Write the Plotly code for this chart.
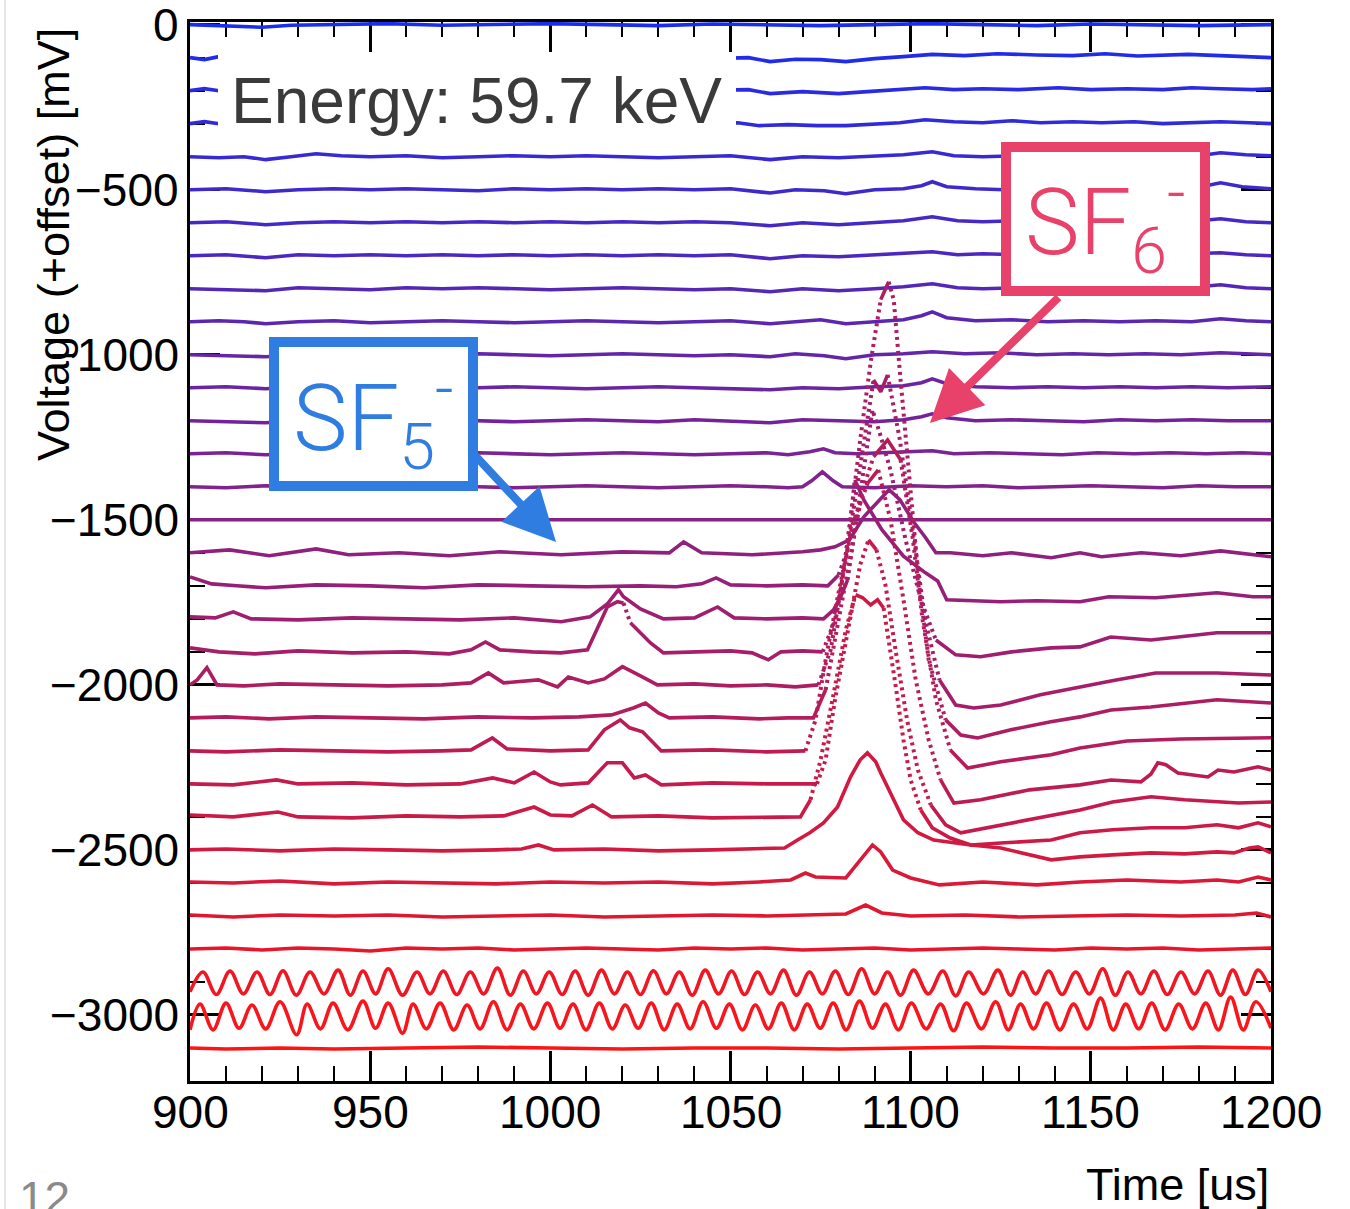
import plotly.graph_objects as go

# ---------------- data (time in us, voltage in mV relative to each trace's offset) ----------------
TRACE_OFFSETS = [0, -100, -200, -300, -400, -500, -600, -700, -800, -900,
                 -1000, -1100, -1200, -1300, -1400, -1500, -1600, -1700, -1800, -1900,
                 -2000, -2100, -2200, -2300, -2400, -2500, -2600, -2700, -2800, -2900,
                 -3000, -3100]

P00 = [(900,0),(910,-3),(920,-8),(928,-2),(940,0),(955,3),(970,-2),(985,0),(1000,3),(1015,0),(1030,-3),
       (1045,2),(1060,0),(1075,-3),(1090,0),(1105,3),(1120,0),(1135,-3),(1150,2),(1165,0),(1180,-3),(1200,0)]
P01 = [(900,0),(904,-6),(908,3),(915,0),(925,-3),(940,0),(955,3),(970,0),(985,-3),(1000,0),(1015,3),(1030,0),
       (1045,-3),(1055,0),(1061,-12),(1068,-5),(1075,-6),(1082,-12),(1090,-3),(1098,3),(1106,10),(1115,6),
       (1124,12),(1135,8),(1145,6),(1154,12),(1163,5),(1177,10),(1188,6),(1197,3),(1200,0)]
P02 = [(900,0),(904,6),(908,0),(920,0),(940,0),(960,0),(980,0),(1000,0),(1020,0),(1040,0),(1055,3),(1061,-9),
       (1070,-3),(1080,-9),(1088,-3),(1097,3),(1104,9),(1112,3),(1120,6),(1130,3),(1141,9),(1150,3),(1160,6),
       (1170,3),(1178,9),(1186,6),(1195,3),(1200,6)]
P03 = [(900,0),(904,6),(908,0),(920,0),(940,0),(960,0),(980,0),(1000,0),(1020,0),(1040,0),(1052,3),(1058,-6),
       (1066,-3),(1074,-6),(1082,-6),(1090,0),(1097,3),(1104,12),(1112,6),(1120,3),(1128,9),(1136,3),(1145,6),
       (1153,3),(1162,6),(1170,0),(1178,3),(1186,6),(1194,3),(1200,0)]
P04 = [(900,0),(908,-3),(915,0),(921,-9),(928,0),(935,9),(942,3),(950,0),(960,3),(970,-3),(980,0),(990,3),
       (1000,0),(1010,3),(1020,0),(1030,-3),(1040,0),(1050,3),(1061,-9),(1070,0),(1080,-3),(1090,3),(1098,6),
       (1106,15),(1112,3),(1120,0),(1130,3),(1140,0),(1150,3),(1160,0),(1170,6),(1180,3),(1186,12),(1193,6),(1200,3)]
P05 = [(900,0),(910,3),(921,-6),(930,0),(940,3),(950,0),(960,3),(970,0),(980,-3),(990,3),(1000,0),(1010,3),
       (1020,0),(1030,3),(1040,0),(1050,3),(1061,-10),(1068,0),(1076,-3),(1082,-12),(1090,0),(1098,3),(1103,12),
       (1106,24),(1110,9),(1118,3),(1126,0),(1135,3),(1145,0),(1155,3),(1165,0),(1175,3),(1182,12),(1186,21),
       (1192,9),(1200,3)]
P06 = [(900,0),(910,3),(921,-6),(930,0),(940,3),(950,0),(960,3),(970,0),(980,3),(990,0),(1000,3),(1010,0),
       (1020,3),(1030,0),(1040,3),(1050,0),(1061,-9),(1070,0),(1080,-6),(1090,0),(1098,6),(1106,18),(1113,6),
       (1120,3),(1130,6),(1140,3),(1150,0),(1160,3),(1170,0),(1180,6),(1186,12),(1193,3),(1200,0)]
P07 = [(900,0),(910,3),(921,-6),(930,3),(940,0),(950,3),(960,0),(970,3),(980,0),(990,3),(1000,0),(1010,3),
       (1020,0),(1030,3),(1040,0),(1050,3),(1061,-9),(1070,0),(1080,-3),(1090,3),(1098,6),(1106,12),(1113,3),
       (1120,6),(1130,3),(1140,0),(1150,3),(1160,0),(1170,3),(1180,6),(1186,9),(1193,3),(1200,0)]
P08 = [(900,0),(910,-3),(921,-6),(930,3),(940,0),(950,-3),(960,3),(970,0),(980,3),(990,0),(1000,-3),(1010,0),
       (1020,3),(1030,0),(1040,-3),(1050,0),(1061,-9),(1070,0),(1080,-6),(1090,0),(1098,6),(1106,15),(1113,3),
       (1120,0),(1130,3),(1140,0),(1150,3),(1160,0),(1170,3),(1180,6),(1186,12),(1193,3),(1200,0)]
P09 = [(900,0),(908,3),(915,0),(921,-6),(930,0),(940,3),(950,-3),(960,0),(970,3),(980,0),(990,-3),(1000,0),
       (1010,3),(1020,0),(1030,-3),(1040,0),(1050,3),(1061,-6),(1070,0),(1075,6),(1082,-6),(1090,0),(1098,6),
       (1103,18),(1106,30),(1110,12),(1118,3),(1128,6),(1138,0),(1148,3),(1158,0),(1168,3),(1178,0),(1186,9),
       (1193,3),(1200,0)]
P10 = [(900,0),(910,-3),(921,-6),(930,0),(940,3),(950,0),(960,-3),(970,0),(980,3),(990,0),(1000,-3),(1010,0),
       (1020,3),(1030,0),(1040,-3),(1050,0),(1061,-6),(1068,3),(1076,-3),(1082,-12),(1090,0),(1098,3),(1106,9),
       (1115,3),(1125,6),(1135,0),(1145,3),(1155,0),(1165,3),(1175,0),(1186,6),(1200,0)]
P11 = [(900,0),(910,3),(921,-3),(930,3),(940,0),(950,3),(960,0),(970,-3),(980,0),(990,3),(1000,0),(1010,-3),
       (1020,0),(1030,3),(1040,0),(1050,-3),(1061,-6),(1070,0),(1080,-3),(1090,3),(1098,6),(1103,15),(1106,27),
       (1110,12),(1118,3),(1128,0),(1138,3),(1148,0),(1158,3),(1168,0),(1178,3),(1188,0),(1200,3)]
P12 = [(900,0),(910,-3),(921,-6),(930,0),(940,3),(950,0),(960,-3),(970,3),(980,0),(990,-3),(1000,0),(1010,3),
       (1020,0),(1030,-3),(1040,3),(1050,0),(1061,-6),(1070,3),(1080,0),(1090,-3),(1098,3),(1103,12),(1106,21),
       (1110,9),(1118,0),(1128,3),(1138,0),(1148,-3),(1158,3),(1168,0),(1178,3),(1188,0),(1200,0)]
P13 = [(900,0),(910,3),(921,-3),(930,0),(940,-3),(950,3),(960,0),(970,-3),(980,3),(990,0),(1000,-3),(1010,0),
       (1020,3),(1030,0),(1040,-3),(1050,0),(1060,3),(1066,-3),(1072,6),(1075.8,15),(1079,3),(1085,0),(1095,3),
       (1106,9),(1112,0),(1122,3),(1132,0),(1142,-3),(1152,3),(1162,0),(1172,3),(1182,0),(1192,3),(1200,0)]
P14 = [(900,0),(910,-3),(921,3),(930,0),(940,3),(950,-3),(960,0),(970,3),(980,0),(990,-3),(1000,0),(1010,3),
       (1020,0),(1030,-3),(1040,0),(1050,3),(1060,0),(1066,-3),(1070,0),(1072.5,18),(1075.5,45),(1078.5,18),
       (1081,0),(1090,-3),(1100,3),(1110,0),(1120,3),(1130,-3),(1140,0),(1150,3),(1160,0),(1170,-3),(1180,3),
       (1190,0),(1200,0)]
P15 = [(900,0),(1200,0)]
P16 = [(900,0),(911,9),(922,-9),(935,12),(944,-6),(958,0),(972,-9),(986,3),(1003,-6),(1020,3),(1033,0),(1037,33),
       (1042,0),(1056,-6),(1070,3),(1075,9),(1079,18),(1083,39),(1087,109),(1092,170),(1094,191),(1097,161),
       (1101,91),(1104,48),(1107,0),(1111,0),(1120,-9),(1128,0),(1139,-15),(1147,0),(1153,-12),(1164,0),
       (1175,-9),(1186,6),(1200,-12)]
P17 = [(900,27),(906,6),(913,0),(921,-6),(935,3),(950,0),(965,-6),(980,3),(995,0),(1010,-3),(1025,0),(1035,-3),
       (1042,6),(1046,24),(1050,3),(1060,0),(1070,3),(1077,0),(1080,33),(1082,94),(1083.3,200),(1084.5,321),
       (1087,260),(1092,170),(1098,90),(1104,40),(1107.5,15),(1110,-42),(1117,-45),(1125,-48),(1135,-45),
       (1147,-48),(1155,-33),(1168,-36),(1185,-21),(1195,-33),(1200,-33)]
P18 = [(900,6),(907,3),(912,21),(917,0),(930,-3),(945,3),(960,0),(975,-3),(990,3),(1003,-9),(1011,6),
       (1015.8,45),(1018.9,88),(1020.3,67),(1025,30),(1031.4,0),(1040,3),(1046.4,36),(1051,3),(1060,0),(1070,3),
       (1075.8,0),(1078.6,27),(1080.6,67),(1082.5,118),(1086,380),(1089.4,633),(1091.5,560),(1094.4,451),
       (1098.6,239),(1102.8,58),(1107,-64),(1112.5,-109),(1119.4,-115),(1128,-100),(1139,-88),(1147,-85),
       (1155.5,-55),(1166.7,-64),(1185,-42),(1200,-42)]
P19 = [(900,12),(908,0),(918,-6),(930,3),(945,-3),(960,0),(972,-6),(978,6),(982,30),(986,6),(995,0),(1003,-3),
       (1010.3,6),(1015.8,136),(1018.6,152),(1020.3,148),(1022.2,88),(1027.8,27),(1031.4,-3),(1040,0),(1050,3),
       (1056,-3),(1060.5,-24),(1064,0),(1070,3),(1075.6,0),(1079,97),(1082,279),(1086,560),(1089.7,824),
       (1091.7,788),(1093.6,839),(1097,642),(1100.6,370),(1104,97),(1108,-85),(1112.5,-161),(1117.5,-170),
       (1125,-161),(1136,-130),(1147,-106),(1157,-85),(1168,-64),(1185,-64),(1200,-70)]
P20 = [(900,0),(902,15),(904.7,52),(907.5,0),(915,-3),(925,3),(940,0),(955,-3),(970,0),(978,6),(982.8,36),
       (987,6),(996.7,15),(1002,-6),(1005,24),(1010.5,6),(1015,18),(1020,55),(1025,27),(1029.7,0),(1040,3),
       (1050,-3),(1060,0),(1068,-6),(1074.4,0),(1077.8,106),(1080.6,288),(1083.3,500),(1086,742),(1089,985),
       (1091.7,1167),(1093.9,1221),(1095.3,1167),(1097.2,924),(1099.4,651),(1102.2,318),(1105,76),
       (1109.7,-106),(1113.9,-152),(1118.6,-161),(1127.8,-136),(1138.9,-112),(1147,-97),(1155.6,-76),
       (1166.7,-67),(1185,-45),(1200,-55)]
P21 = [(900,0),(910,3),(922,-3),(935,3),(950,0),(965,-3),(980,3),(995,0),(1008,3),(1017,9),(1023,30),
       (1026.4,45),(1030,15),(1033,0),(1045,3),(1058,-3),(1066,0),(1073,0),(1076.4,85),(1079,236),(1083.3,479),
       (1086.7,691),(1089.7,791),(1093.6,842),(1097.2,782),(1100.6,542),(1103.3,297),(1107,55),(1111,-97),
       (1115.8,-152),(1125,-133),(1139,-112),(1147,-91),(1160,-70),(1175,-64),(1190,-60),(1200,-60)]
P22 = [(900,0),(910,-3),(925,3),(940,0),(955,-3),(970,0),(978,3),(983.9,39),(988,6),(1000,0),(1010.5,3),
       (1015,64),(1019.4,94),(1022,70),(1025.6,58),(1030.8,0),(1045,3),(1060,-3),(1070.8,0),(1073.6,94),
       (1076.4,276),(1080,480),(1084,690),(1088,810),(1091,851),(1094.4,700),(1098,458),(1101.4,215),(1105,33),
       (1108.3,-88),(1112,-158),(1119.4,-148),(1133,-118),(1147,-103),(1155.6,-88),(1163.9,-94),(1166.7,-70),
       (1168.6,-36),(1170.8,-42),(1174.2,-67),(1177.8,-73),(1182.5,-79),(1185.3,-58),(1189.7,-64),(1196.4,-48),
       (1200,-58)]
P23 = [(900,0),(912,-3),(924,12),(930,0),(945,3),(960,-3),(975,0),(984,18),(990,3),(995.5,36),(1000,6),
       (1002.8,-3),(1010.5,3),(1015.8,64),(1020,64),(1023.3,18),(1026.4,27),(1030.8,-3),(1045,3),(1060,0),
       (1074,0),(1076.4,73),(1079,255),(1083.3,497),(1086,664),(1088.3,739),(1090.5,709),(1093,603),
       (1095.8,406),(1099,194),(1102,42),(1105.6,-64),(1109.7,-124),(1113.9,-148),(1125,-124),(1139,-94),
       (1147,-79),(1156,-55),(1166.7,-39),(1176,-48),(1185,-55),(1191,-58),(1200,-55)]
P24 = [(900,6),(912,0),(924.4,15),(930,0),(945,-3),(960,3),(975,0),(987,3),(995.5,30),(1000,6),(1006,3),
       (1011.7,36),(1017,0),(1030,3),(1045,-3),(1058,0),(1069.4,0),(1072.2,52),(1075,173),(1078.3,355),
       (1082,567),(1084.7,673),(1086.7,664),(1088.9,642),(1090.8,658),(1092.5,633),(1094.4,506),(1096,385),
       (1098,233),(1100,112),(1102.8,21),(1106,-33),(1111,-64),(1116.7,-85),(1125,-79),(1139,-70),(1147,-48),
       (1156,-39),(1166.7,-33),(1176,-33),(1185,-24),(1191,-33),(1196.4,-18),(1200,-30)]
P25 = [(900,0),(910,3),(925,-3),(940,3),(955,0),(970,-3),(985,0),(992,3),(996.7,15),(1001,0),(1015,3),(1030,-3),
       (1045,0),(1060,3),(1065,6),(1068.6,30),(1072,52),(1075.8,82),(1079.7,130),(1083.3,221),(1086,273),
       (1088,294),(1090.3,267),(1091.7,233),(1094.4,173),(1098,91),(1102,52),(1106.4,30),(1116.7,15),(1125,6),
       (1139,-30),(1147,-21),(1156,-15),(1166.7,-9),(1176,-12),(1185,-6),(1189.7,-9),(1194,6),(1196.4,9),
       (1198,0),(1200,-9)]
P26 = [(900,3),(912,0),(925,6),(940,-3),(955,3),(970,0),(985,-3),(1000,3),(1015,0),(1030,3),(1045,-3),(1058,3),
       (1066.7,9),(1070.8,30),(1073.6,18),(1082,15),(1086,70),(1089.4,115),(1091.7,94),(1095,39),(1100,15),
       (1108,-6),(1120,3),(1135,-6),(1147,3),(1160,9),(1175,3),(1185,9),(1191,3),(1196.4,18),(1200,9)]
P27 = [(900,3),(912,-3),(925,3),(940,0),(955,3),(970,-3),(985,0),(1000,3),(1015,-3),(1030,0),(1045,3),(1060,0),
       (1075,3),(1082,6),(1087.5,33),(1092,9),(1100,0),(1115,3),(1130,-3),(1145,0),(1160,3),(1175,0),(1190,3),
       (1196,9),(1200,-3)]
P28 = [(900,0),(910,3),(920,-3),(930,3),(940,0),(950,-6),(960,3),(970,0),(980,3),(990,-3),(1000,0),(1010,3),
       (1020,0),(1030,-3),(1040,3),(1050,0),(1060,3),(1070,-3),(1080,0),(1090,3),(1100,-3),(1110,0),(1120,3),
       (1130,0),(1140,-3),(1150,3),(1160,0),(1170,3),(1180,-3),(1190,0),(1200,3)]
P29 = [(900,-30),(903.6,30),(907.3,-38),(911.1,33),(914.8,-36),(918.6,30),(922.2,-38),(925.8,34),(929.5,-40),
       (933.3,30),(937.2,-36),(941.1,36),(944.5,-40),(948,33),(951.5,-36),(955,40),(959,-40),(963,30),
       (966.6,-36),(970.3,33),(974,-38),(977.8,30),(981.5,-36),(985.3,42),(988.9,-40),(992.5,33),(996.1,-36),
       (999.7,30),(1003.3,-38),(1006.9,33),(1010.5,-40),(1014.2,36),(1017.8,-36),(1021.4,30),(1025,-38),
       (1028.6,34),(1032.2,-36),(1035.8,30),(1039.4,-40),(1043,36),(1046.7,-36),(1050.3,33),(1053.9,-38),
       (1057.5,30),(1061.1,-36),(1064.7,36),(1068.3,-40),(1071.9,30),(1075.5,-36),(1079.1,33),(1082.7,-38),
       (1086.4,40),(1090,-36),(1093.6,30),(1097.2,-40),(1100.8,36),(1104.9,-36),(1108.9,33),(1112.5,-42),
       (1116.1,30),(1120.2,-36),(1124.2,36),(1127.7,-40),(1131.1,30),(1134.7,-36),(1138.3,33),(1142,-38),
       (1145.8,30),(1149.6,-36),(1153.3,40),(1156.8,-40),(1160.3,30),(1163.9,-36),(1167.5,33),(1171.2,-38),
       (1175,30),(1178.8,-36),(1182.5,33),(1186,-40),(1189.4,36),(1192.9,-38),(1196.4,36),(1200,-30)]
P30 = [(900,-45),(902.8,33),(906.4,-45),(910,36),(913.6,-40),(917.2,30),(921,-42),(925,40),(929.6,-60),
       (932.5,33),(936.2,-42),(939.7,36),(943.8,-45),(948,42),(951.5,-40),(955,36),(959,-55),(961.9,33),
       (965.6,-42),(969.4,36),(973.2,-45),(976.9,30),(980.5,-42),(984.2,40),(988,-45),(991.7,33),(995.4,-42),
       (999.2,36),(1002.7,-40),(1006.3,33),(1009.9,-45),(1013.6,36),(1017.2,-42),(1020.8,30),(1024.4,-40),
       (1028,36),(1031.6,-45),(1035.2,33),(1038.8,-42),(1042.4,40),(1046.1,-40),(1049.7,33),(1053.3,-45),
       (1056.9,30),(1060.5,-42),(1064.1,36),(1067.7,-45),(1071.3,33),(1074.9,-40),(1078.5,36),(1082.1,-45),
       (1085.8,42),(1089.4,-40),(1093,33),(1096.6,-45),(1100.2,36),(1104.3,-42),(1108.3,33),(1111.9,-48),
       (1115.5,36),(1119.6,-42),(1123.6,40),(1127.1,-45),(1130.5,33),(1134.1,-42),(1137.7,36),(1141.4,-45),
       (1145.2,33),(1149,-42),(1152.7,51),(1156.2,-45),(1159.7,33),(1163.3,-42),(1166.9,36),(1170.6,-45),
       (1174.4,33),(1178.2,-42),(1181.9,36),(1185.4,-45),(1188.8,54),(1192.3,-45),(1195.8,40),(1200,-40)]
P31 = [(900,0),(910,-3),(925,0),(940,-3),(960,0),(980,3),(1000,0),(1020,-3),(1040,0),(1060,0),(1080,-3),
       (1100,0),(1120,3),(1140,0),(1160,0),(1180,3),(1200,0)]

TRACE_POINTS = [P00, P01, P02, P03, P04, P05, P06, P07, P08, P09, P10, P11, P12, P13, P14, P15,
                P16, P17, P18, P19, P20, P21, P22, P23, P24, P25, P26, P27, P28, P29, P30, P31]
SMOOTH_TRACES = [29, 30]

X_TICKS = [900, 950, 1000, 1050, 1100, 1150, 1200]
Y_TICKS = [-3000, -2500, -2000, -1500, -1000, -500, 0]
X_TITLE = "Time [us]"
Y_TITLE = "Voltage (+offset) [mV]"
ENERGY_TEXT = "Energy: 59.7 keV"
SF5_TEXT = "SF<sub>5</sub><sup>-</sup>"
SF6_TEXT = "SF<sub>6</sub><sup>-</sup>"
PAGE_TEXT = "12"

# ---------------- layout geometry / styles ----------------
W, H = 1350, 1209
ML, MR, MT, MB = 190, 79, 22, 128
PW, PH = W - ML - MR, H - MT - MB
X_RANGE = [900, 1200]
Y_RANGE = [-3200, 8]
PX_PER_US = PW / (X_RANGE[1] - X_RANGE[0])
PX_PER_MV = PH / (Y_RANGE[1] - Y_RANGE[0])
STEEP = 2.5
FONT = "Liberation Sans, Arial, Helvetica, sans-serif"
BLUE_BOX = "#2f7de1"
PINK_BOX = "#e8426a"
TICK_FONT = dict(family=FONT, size=46, color="black")


def xp(px):
    return (px - ML) / PW


def yp(py):
    return (H - MB - py) / PH


def trace_color(i, n):
    f = i / (n - 1)
    return "rgb(%d,%d,%d)" % (round(25 + 230 * f), round(45 - 25 * f), round(240 - 220 * f))


def split_runs(ts, vs, allow_dots=True):
    """Split a polyline into solid (gentle) and dotted (steep) runs, like sampled points in ROOT."""
    solid_x, solid_y, dot_x, dot_y = [], [], [], []
    cur = None
    for k in range(len(ts) - 1):
        dx = abs(ts[k + 1] - ts[k]) * PX_PER_US
        dy = abs(vs[k + 1] - vs[k]) * PX_PER_MV
        steep = allow_dots and dy > STEEP * max(dx, 1e-9)
        X, Y = (dot_x, dot_y) if steep else (solid_x, solid_y)
        if cur != steep:
            X.append(None); Y.append(None)
            X.append(ts[k]); Y.append(vs[k])
            cur = steep
        X.append(ts[k + 1]); Y.append(vs[k + 1])
    return solid_x, solid_y, dot_x, dot_y


fig = go.Figure()
n = len(TRACE_POINTS)
for i, (pts, off) in enumerate(zip(TRACE_POINTS, TRACE_OFFSETS)):
    ts = [p[0] for p in pts]
    vs = [p[1] + off for p in pts]
    c = trace_color(i, n)
    smooth = i in SMOOTH_TRACES
    shape = "spline" if smooth else "linear"
    sx, sy, dx_, dy_ = split_runs(ts, vs, allow_dots=not smooth)
    fig.add_trace(go.Scatter(x=sx, y=sy, mode="lines", line=dict(color=c, width=3.6, shape=shape),
                             hoverinfo="skip", showlegend=False, connectgaps=False))
    if dx_:
        fig.add_trace(go.Scatter(x=dx_, y=dy_, mode="lines",
                                 line=dict(color=c, width=4, dash="3px,4px", shape=shape),
                                 hoverinfo="skip", showlegend=False, connectgaps=False))

axis_common = dict(
    showgrid=False, zeroline=False, showline=True, linecolor="black", linewidth=3,
    mirror="allticks", ticks="inside", ticklen=30, tickwidth=2.5, tickcolor="black",
    showticklabels=False, layer="below traces", automargin=False,
)

fig.update_layout(
    width=W, height=H,
    margin=dict(l=ML, r=MR, t=MT, b=MB, pad=0, autoexpand=False),
    paper_bgcolor="white", plot_bgcolor="white",
    xaxis=dict(range=X_RANGE, tickmode="array", tickvals=X_TICKS,
               minor=dict(tickmode="linear", tick0=900, dtick=10, ticks="inside", ticklen=15,
                          tickwidth=2, tickcolor="black"),
               **axis_common),
    yaxis=dict(range=Y_RANGE, tickmode="array", tickvals=Y_TICKS,
               minor=dict(tickmode="linear", tick0=0, dtick=100, ticks="inside", ticklen=15,
                          tickwidth=2, tickcolor="black"),
               **axis_common),
)

shapes = [
    # white box behind the energy label
    dict(type="rect", xref="paper", yref="paper", x0=xp(218), x1=xp(736), y0=yp(136), y1=yp(52),
         fillcolor="white", line=dict(width=0), layer="above"),
    # SF5- box
    dict(type="rect", xref="paper", yref="paper", x0=xp(274), x1=xp(473), y0=yp(486), y1=yp(342),
         fillcolor="white", line=dict(color=BLUE_BOX, width=10), layer="above"),
    # SF6- box
    dict(type="rect", xref="paper", yref="paper", x0=xp(1006), x1=xp(1205), y0=yp(291), y1=yp(147),
         fillcolor="white", line=dict(color=PINK_BOX, width=10), layer="above"),
    # slide edge line
    dict(type="line", xref="paper", yref="paper", x0=xp(5), x1=xp(5), y0=yp(0), y1=yp(H),
         line=dict(color="#e6e6e6", width=2), layer="above"),
]
fig.update_layout(shapes=shapes)

annotations = [
    dict(text=ENERGY_TEXT, xref="paper", yref="paper", x=xp(476), y=yp(101), xanchor="center",
         yanchor="middle", showarrow=False, font=dict(family=FONT, size=64, color="#3a3a3a")),
    dict(text=SF5_TEXT, xref="paper", yref="paper", x=xp(373), y=yp(418), xanchor="center",
         yanchor="middle", showarrow=False,
         font=dict(family="Roboto, Liberation Sans, sans-serif", size=92, color=BLUE_BOX, weight=300)),
    dict(text=SF6_TEXT, xref="paper", yref="paper", x=xp(1105), y=yp(222), xanchor="center",
         yanchor="middle", showarrow=False,
         font=dict(family="Roboto, Liberation Sans, sans-serif", size=92, color=PINK_BOX, weight=300)),
    # arrows
    dict(text="", xref="paper", yref="paper", x=xp(556), y=yp(542), ax=-86, ay=-92,
         showarrow=True, arrowhead=2, arrowsize=1.3, arrowwidth=8, arrowcolor=BLUE_BOX, standoff=0),
    dict(text="", xref="paper", yref="paper", x=xp(930), y=yp(423), ax=130, ay=-127,
         showarrow=True, arrowhead=2, arrowsize=1.3, arrowwidth=8, arrowcolor=PINK_BOX, standoff=0),
    # axis titles
    dict(text=X_TITLE, xref="paper", yref="paper", x=1.0, y=yp(1184), xanchor="right", yanchor="middle",
         showarrow=False, font=dict(family=FONT, size=45, color="black")),
    dict(text=Y_TITLE, xref="paper", yref="paper", x=xp(53), y=yp(245), xanchor="center", yanchor="middle",
         textangle=-90, showarrow=False, font=dict(family=FONT, size=45, color="black")),
    dict(text=PAGE_TEXT, xref="paper", yref="paper", x=xp(44), y=yp(1198), xanchor="center",
         yanchor="middle", showarrow=False, font=dict(family=FONT, size=46, color="#8a8a8a")),
]
# tick labels placed like ROOT's (close to the frame)
for v in X_TICKS:
    annotations.append(dict(text=str(v), xref="x", yref="paper", x=v, y=yp(1112), xanchor="center",
                            yanchor="middle", showarrow=False, font=TICK_FONT))
for v in Y_TICKS:
    annotations.append(dict(text=str(v).replace("-", "\u2212"), xref="paper", yref="y", x=xp(181), y=v,
                            xanchor="right", yanchor="middle", showarrow=False, font=TICK_FONT))
fig.update_layout(annotations=annotations)

fig.write_html("out.html")
